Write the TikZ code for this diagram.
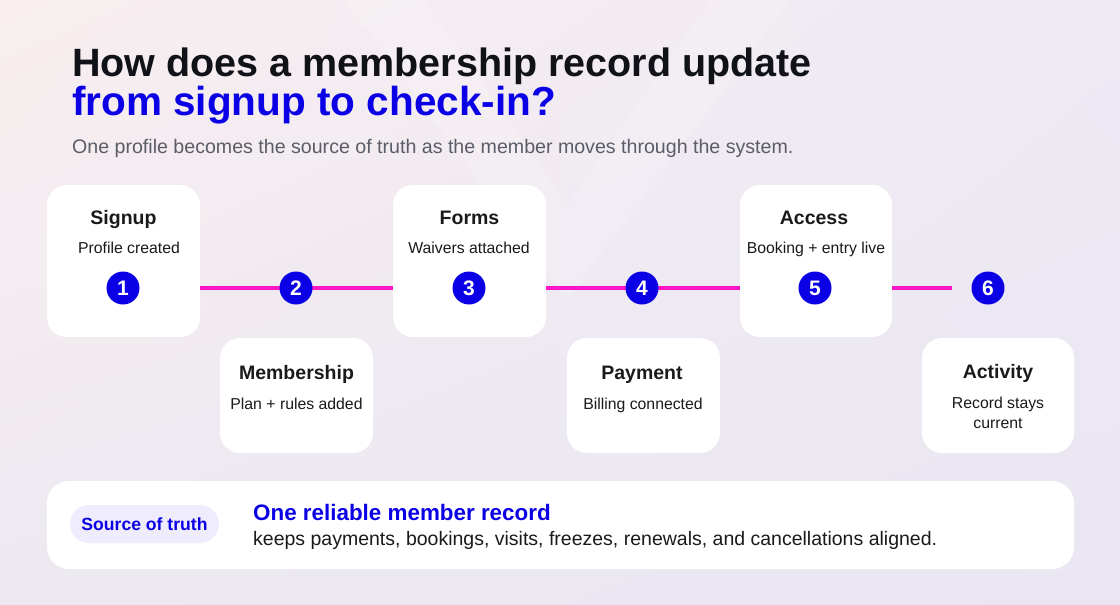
\documentclass[tikz,border=0pt]{standalone}
\usepackage{fontspec}
\setmainfont{Liberation Sans}
\usetikzlibrary{shadings}
\definecolor{bgA}{HTML}{F8EEEF}
\definecolor{bgB}{HTML}{EEEAF4}
\definecolor{bgC}{HTML}{EDE9F1}
\definecolor{bgD}{HTML}{E9E6F2}
\definecolor{brandblue}{HTML}{0B00E5}
\definecolor{linkpink}{HTML}{FF14C8}
\definecolor{headink}{HTML}{111118}
\definecolor{subgray}{HTML}{5A5D68}
\definecolor{cardink}{HTML}{1A1A1A}
\definecolor{pillfill}{HTML}{EFEDFD}
\tikzset{
  card/.style={draw=none, fill=white, rounded corners=20pt, inner sep=0pt},
  cardtitle/.style={anchor=base, font=\fontsize{19.5}{22}\selectfont\bfseries, text=cardink, inner sep=0pt},
  cardsub/.style={anchor=base, font=\fontsize{15.8}{20}\selectfont, text=cardink, inner sep=0pt},
  stepnum/.style={circle, fill=brandblue, minimum size=33pt, inner sep=0pt, text=white, font=\fontsize{21}{21}\selectfont\bfseries},
  link/.style={draw=linkpink, line width=4pt},
}
\begin{document}
\begin{tikzpicture}[x=1pt,y=-1pt]
\useasboundingbox (0,0) rectangle (1120,605);
\shade[upper left=bgA, upper right=bgB, lower left=bgC, lower right=bgD] (0,0) rectangle (1120,605);
% faint watermark V
\fill[white, opacity=0.18] (345,0) -- (425,0) -- (567,205) -- (710,0) -- (790,0) -- (567,300) -- cycle;

% heading
\node[anchor=base west, inner sep=0pt, text=headink, font=\fontsize{39.5}{44}\selectfont\bfseries] (h1) at (72,76) {How does a membership record update};
\node[anchor=base west, inner sep=0pt, text=brandblue, font=\fontsize{40.5}{44}\selectfont\bfseries] (h2) at (72,115) {from signup to check-in?};
\node[anchor=base west, inner sep=0pt, text=subgray, font=\fontsize{19.6}{22}\selectfont] (h3) at (72,153) {One profile becomes the source of truth as the member moves through the system.};

% cards
\node[card, minimum width=153pt, minimum height=152pt] (c1) at (123.5,261) {};
\node[card, minimum width=153pt, minimum height=152pt] (c3) at (469.5,261) {};
\node[card, minimum width=152pt, minimum height=152pt] (c5) at (816,261) {};
\node[card, minimum width=153pt, minimum height=115pt] (c2) at (296.5,395.5) {};
\node[card, minimum width=153pt, minimum height=115pt] (c4) at (643.5,395.5) {};
\node[card, minimum width=152pt, minimum height=115pt] (c6) at (998,395.5) {};

% connectors
\coordinate (row) at (0,288);
\coordinate (linkend) at (952,288);
\path[link] (row -| c1.east) -- (row -| c3.west);
\path[link] (row -| c3.east) -- (row -| c5.west);
\path[link] (row -| c5.east) -- (linkend);

% step numbers
\node[stepnum] (n1) at (123,288) {1};
\node[stepnum] (n2) at (296,288) {2};
\node[stepnum] (n3) at (469,288) {3};
\node[stepnum] (n4) at (642,288) {4};
\node[stepnum] (n5) at (815,288) {5};
\node[stepnum] (n6) at (988,288) {6};

% card texts
\node[cardtitle] (t1) at (123.5,224) {Signup};
\node[cardsub] (s1) at (129,253) {Profile created};
\node[cardtitle] (t3) at (469.5,224) {Forms};
\node[cardsub] (s3) at (469,253) {Waivers attached};
\node[cardtitle] (t5) at (814,224) {Access};
\node[cardsub] (s5) at (816,253) {Booking + entry live};
\node[cardtitle] (t2) at (296.5,379) {Membership};
\node[cardsub] (s2) at (296.5,409) {Plan + rules added};
\node[cardtitle] (t4) at (642,379) {Payment};
\node[cardsub] (s4) at (643,409) {Billing connected};
\node[cardtitle] (t6) at (998,378) {Activity};
\node[cardsub] (s6a) at (998,408) {Record stays};
\node[cardsub] (s6b) at (998,428) {current};

% bottom panel
\node[card, rounded corners=22pt, minimum width=1027pt, minimum height=88pt] (panel) at (560.5,525) {};
\node[fill=pillfill, rounded corners=19pt, minimum width=149pt, minimum height=38pt, inner sep=0pt] (pill) at (144.5,524) {};
\node[anchor=base, inner sep=0pt, text=brandblue, font=\fontsize{17.6}{20}\selectfont\bfseries] (pilltext) at (144.5,530) {Source of truth};
\node[anchor=base west, inner sep=0pt, text=brandblue, font=\fontsize{22.4}{24}\selectfont\bfseries] (rec) at (253,520) {One reliable member record};
\node[anchor=base west, inner sep=0pt, text=cardink, font=\fontsize{19.5}{22}\selectfont] (recsub) at (253,545) {keeps payments, bookings, visits, freezes, renewals, and cancellations aligned.};
\end{tikzpicture}
\end{document}
